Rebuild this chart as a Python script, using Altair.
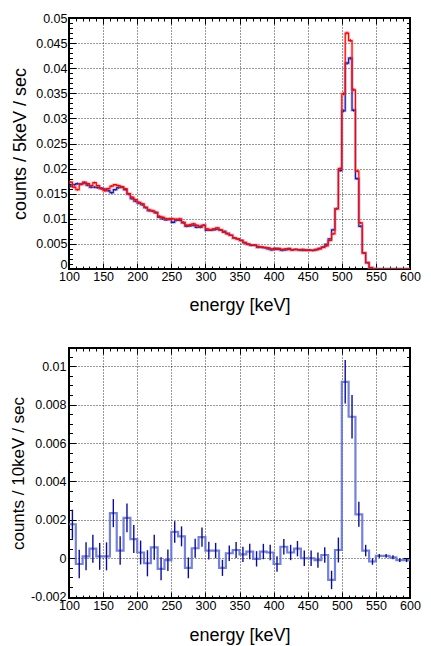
import altair as alt
import pandas as pd

FONT = "Liberation Sans"

# ---------------- data ----------------
# top panel: 5 keV bins from 100 to 600 keV
top_lo = list(range(100, 600, 5))
red_counts = [
    0.0173, 0.0163, 0.0158, 0.0169, 0.0173, 0.0170, 0.0166, 0.0172, 0.0166, 0.0160,
    0.0156, 0.0160, 0.0165, 0.0168, 0.0166, 0.0164, 0.0160, 0.0150, 0.0143, 0.0138,
    0.0133, 0.0130, 0.0123, 0.0118, 0.0115, 0.0113, 0.0105, 0.0103, 0.0100, 0.0099,
    0.0100, 0.0099, 0.0100, 0.0093, 0.0087, 0.0088, 0.0090, 0.0087, 0.0085, 0.0087,
    0.0080, 0.0078, 0.0080, 0.0082, 0.0078, 0.0073, 0.0070, 0.0067, 0.0062, 0.0060,
    0.0057, 0.0053, 0.0050, 0.0048, 0.0048, 0.0045, 0.0044, 0.0043, 0.0042, 0.0040,
    0.0039, 0.0041, 0.0039, 0.0040, 0.0041, 0.0038, 0.0039, 0.0038, 0.0039, 0.0037,
    0.0038, 0.0037, 0.0039, 0.0040, 0.0043, 0.0046, 0.0057, 0.0070, 0.0120, 0.0200,
    0.0349, 0.0470, 0.0455, 0.0357, 0.0195, 0.0092, 0.0032, 0.0013, 0.0003, 0.0001,
    0.0000, 0.0000, 0.0000, 0.0000, 0.0000, 0.0000, 0.0000, 0.0000, 0.0000, 0.0000,
]
blue_counts = [
    0.0165, 0.0168, 0.0170, 0.0169, 0.0171, 0.0167, 0.0163, 0.0163, 0.0162, 0.0161,
    0.0159, 0.0156, 0.0152, 0.0158, 0.0162, 0.0163, 0.0158, 0.0149, 0.0140, 0.0135,
    0.0131, 0.0128, 0.0122, 0.0116, 0.0116, 0.0112, 0.0103, 0.0100, 0.0098, 0.0100,
    0.0093, 0.0097, 0.0097, 0.0092, 0.0085, 0.0086, 0.0087, 0.0083, 0.0083, 0.0087,
    0.0077, 0.0077, 0.0078, 0.0079, 0.0077, 0.0075, 0.0071, 0.0067, 0.0062, 0.0060,
    0.0057, 0.0052, 0.0049, 0.0047, 0.0047, 0.0043, 0.0043, 0.0042, 0.0040, 0.0038,
    0.0041, 0.0039, 0.0037, 0.0038, 0.0039, 0.0038, 0.0039, 0.0038, 0.0037, 0.0038,
    0.0037, 0.0037, 0.0038, 0.0041, 0.0044, 0.0049, 0.0060, 0.0078, 0.0120, 0.0196,
    0.0315, 0.0410, 0.0420, 0.0316, 0.0180, 0.0085, 0.0032, 0.0012, 0.0003, 0.0001,
    0.0000, 0.0000, 0.0000, 0.0000, 0.0000, 0.0000, 0.0000, 0.0000, 0.0000, 0.0000,
]
red_err = [
    0.0002, 0.0002, 0.0002, 0.0002, 0.0002, 0.0002, 0.0002, 0.0002, 0.0002, 0.0002,
    0.0002, 0.0002, 0.0002, 0.0002, 0.0002, 0.0002, 0.0002, 0.0002, 0.0002, 0.0002,
    0.0002, 0.0002, 0.0002, 0.0002, 0.0002, 0.0002, 0.0002, 0.0002, 0.0002, 0.0002,
    0.0002, 0.0002, 0.0002, 0.0002, 0.0002, 0.0002, 0.0002, 0.0002, 0.0002, 0.0002,
    0.00015, 0.00015, 0.00015, 0.00015, 0.00015, 0.00015, 0.00015, 0.00015, 0.00015, 0.00015,
    0.00015, 0.00015, 0.00015, 0.00015, 0.00015, 0.00015, 0.00015, 0.00015, 0.00015, 0.00015,
    0.00015, 0.00015, 0.00015, 0.00015, 0.00015, 0.00015, 0.00015, 0.00015, 0.00015, 0.00015,
    0.00015, 0.00015, 0.00015, 0.00015, 0.00015, 0.00015, 0.00015, 0.0002, 0.0002, 0.00025,
    0.0003, 0.0003, 0.0003, 0.0003, 0.00025, 0.0002, 0.00015, 0.0001, 0.00005, 0.00003,
    0.0, 0.0, 0.0, 0.0, 0.0, 0.0, 0.0, 0.0, 0.0, 0.0,
]
blue_err = list(red_err)

# bottom panel: 10 keV bins, difference spectrum
bot_lo = list(range(100, 600, 10))
diff_counts = [
    0.00177, -0.0003, 0.0001, 0.0005, 0.0001, 0.0001, 0.00235, 0.0004, 0.0021, 0.0010,
    0.0003, -0.00026, 0.00057, -0.00055, -0.0001, 0.00137, 0.00114, -0.0005, 0.00052, 0.0011,
    0.0004, 0.0004, -0.0005, 0.00026, 0.00043, 0.0002, 0.00035, -0.00003, 0.00035, 0.0003,
    -0.0003, 0.0006, 0.0003, 0.0005, 0.0, 0.0, -0.0001, 0.00017, -0.00113, 0.00043,
    0.00919, 0.00737, 0.00229, 0.0004, -0.00017, 0.00012, 0.00012, 0.00005, -0.0001, -0.0001,
]
diff_err = [
    0.00076, 0.00074, 0.00073, 0.00073, 0.0007, 0.00073, 0.00073, 0.00074, 0.00075, 0.00073,
    0.00062, 0.00068, 0.00065, 0.0006, 0.00056, 0.00056, 0.00052, 0.00054, 0.0005, 0.0005,
    0.00046, 0.0004, 0.00042, 0.0004, 0.00042, 0.0004, 0.0004, 0.0004, 0.0004, 0.0004,
    0.0004, 0.0004, 0.0004, 0.0004, 0.0004, 0.0004, 0.0004, 0.0004, 0.00048, 0.00065,
    0.00113, 0.00113, 0.00065, 0.0003, 0.00017, 0.0001, 0.0001, 0.0001, 0.0001, 0.0001,
]

x_major = [100, 150, 200, 250, 300, 350, 400, 450, 500, 550, 600]
x_minor = list(range(100, 601, 10))
y_top_major = [0, 0.005, 0.01, 0.015, 0.02, 0.025, 0.03, 0.035, 0.04, 0.045, 0.05]
y_top_minor = [round(i * 0.001, 4) for i in range(0, 51)]
y_bot_major = [-0.002, 0, 0.002, 0.004, 0.006, 0.008, 0.01]
y_bot_minor = [round(-0.002 + i * 0.0005, 4) for i in range(0, 26)]

X_DOMAIN = [100, 600]
YT_DOMAIN = [0, 0.05]
YB_DOMAIN = [-0.00207, 0.01095]

# ---------------- tables ----------------
top_step = pd.DataFrame({
    "x": top_lo + [600],
    "red": red_counts + [red_counts[-1]],
    "blue": blue_counts + [blue_counts[-1]],
})
top_err = pd.DataFrame({
    "xc": [v + 2.5 for v in top_lo],
    "r_lo": [v - e for v, e in zip(red_counts, red_err)],
    "r_hi": [v + e for v, e in zip(red_counts, red_err)],
    "b_lo": [v - e for v, e in zip(blue_counts, blue_err)],
    "b_hi": [v + e for v, e in zip(blue_counts, blue_err)],
})
bot_step = pd.DataFrame({"x": bot_lo + [600], "d": diff_counts + [diff_counts[-1]]})
bot_err = pd.DataFrame({
    "xc": [v + 5 for v in bot_lo],
    "lo": [v - e for v, e in zip(diff_counts, diff_err)],
    "hi": [v + e for v, e in zip(diff_counts, diff_err)],
})

LABEL_EXPR = "datum.value < 0 ? '-' + format(-datum.value, '~g') : format(datum.value, '~g')"


def main_x(title_y):
    return alt.Axis(
        orient="bottom", values=x_major, format="d", title="energy [keV]",
        titleFont=FONT, titleFontSize=18, titleFontWeight="normal", titleColor="black",
        titleY=title_y, titleBaseline="alphabetic",
        labelFont=FONT, labelFontSize=12.5, labelColor="black", labelPadding=1,
        labelFlush=False, labelOverlap=False,
        ticks=False, tickSize=0, domain=False,
        grid=True, gridColor="black", gridDash=[1, 2], gridOpacity=0.8, gridWidth=1,
    )


def main_y(values, title, tsize, tx, ty, pad, zero_shift):
    return alt.Axis(
        orient="left", values=values, title=title, labelExpr=LABEL_EXPR,
        titleFont=FONT, titleFontSize=tsize, titleFontWeight="normal", titleColor="black",
        titleX=tx, titleY=ty, titleAngle=270, titleBaseline="alphabetic", titleAlign="center",
        labelFont=FONT, labelFontSize=12.5, labelColor="black", labelPadding=pad,
        labelOverlap=False, labelBaseline="middle",
        labelOffset={"condition": {"test": "datum.value === 0", "value": zero_shift}, "value": 0},
        ticks=False, tickSize=0, domain=False,
        grid=True, gridColor="black", gridDash=[1, 2], gridOpacity=0.8, gridWidth=1,
    )


def tick_axis(orient, offset, values, size):
    return alt.Axis(
        orient=orient, offset=offset, values=values, tickSize=size, tickColor="black",
        tickWidth=1, ticks=True, labels=False, grid=False, domain=False, title=None,
        minExtent=0,
    )


def panel(W, H, ydom, ymaj, ymin, ytitle, ytsize, ytx, ylpad, xty, zero_shift, marks):
    xs = alt.Scale(domain=X_DOMAIN, nice=False, zero=False)
    ys = alt.Scale(domain=ydom, nice=False, zero=False)
    axes = [
        (main_x(xty), main_y(ymaj, ytitle, ytsize, ytx, H / 2, ylpad, zero_shift)),
        (tick_axis("top", -H, x_major, 6), tick_axis("right", -W, ymaj, 7)),
        (tick_axis("bottom", -H, x_major, 6), tick_axis("left", -W, ymaj, 7)),
        (tick_axis("top", -H, x_minor, 3), tick_axis("right", -W, ymin, 3.5)),
        (tick_axis("bottom", -H, x_minor, 3), tick_axis("left", -W, ymin, 3.5)),
    ]
    layers = []
    for i, (mk, xf, yf, y2f) in enumerate(marks):
        if i < len(axes):
            ax, ay = axes[i]
        else:
            ax, ay = None, None
        enc = {
            "x": alt.X(f"{xf}:Q", scale=xs, axis=ax),
            "y": alt.Y(f"{yf}:Q", scale=ys, axis=ay),
        }
        if y2f:
            enc["y2"] = alt.Y2(f"{y2f}:Q")
        layers.append(mk.encode(**enc))
    return alt.layer(*layers).properties(width=W, height=H).resolve_axis(
        x="independent", y="independent"
    )


RED = "#ff0000"
BLUE = "#1a1aa8"

top_marks = [
    (alt.Chart(top_step).mark_line(interpolate="step-after", color="#6070d0", strokeWidth=3, opacity=0.35, clip=True), "x", "blue", None),
    (alt.Chart(top_step).mark_line(interpolate="step-after", color=BLUE, strokeWidth=1.2, clip=True), "x", "blue", None),
    (alt.Chart(top_err).mark_rule(color=BLUE, strokeWidth=1.2, clip=True), "xc", "b_lo", "b_hi"),
    (alt.Chart(top_step).mark_line(interpolate="step-after", color="#ff7070", strokeWidth=3, opacity=0.35, clip=True), "x", "red", None),
    (alt.Chart(top_step).mark_line(interpolate="step-after", color=RED, strokeWidth=1.2, clip=True), "x", "red", None),
    (alt.Chart(top_err).mark_rule(color=RED, strokeWidth=1.2, clip=True), "xc", "r_lo", "r_hi"),
]

bot_marks = [
    (alt.Chart(bot_step).mark_line(interpolate="step-after", color="#5b6bd9", strokeWidth=2.2, opacity=0.85, clip=True), "x", "d", None),
    (alt.Chart(bot_err).mark_rule(color="#0c0c9c", strokeWidth=1.4, clip=True), "xc", "lo", "hi"),
    (alt.Chart(bot_err).mark_rule(color="#0c0c9c", strokeWidth=1.4, opacity=0, clip=True), "xc", "lo", "hi"),
    (alt.Chart(bot_err).mark_rule(color="#0c0c9c", strokeWidth=1.4, opacity=0, clip=True), "xc", "lo", "hi"),
    (alt.Chart(bot_err).mark_rule(color="#0c0c9c", strokeWidth=1.4, opacity=0, clip=True), "xc", "lo", "hi"),
]

top = panel(341, 251, YT_DOMAIN, y_top_major, y_top_minor, "counts / 5keV / sec", 18, -44, 2, 41, -5, top_marks)
bottom = panel(341, 250, YB_DOMAIN, y_bot_major, y_bot_minor, "counts / 10keV / sec", 17, -46, 3, 42, 0, bot_marks)

chart = alt.vconcat(top, bottom, spacing=31).properties(
    padding={"left": 0, "top": 3, "right": 0, "bottom": 0},
    background="white",
).configure_view(stroke="black", strokeWidth=2)

chart.save("out.html", embed_options={"renderer": "svg", "actions": False})
